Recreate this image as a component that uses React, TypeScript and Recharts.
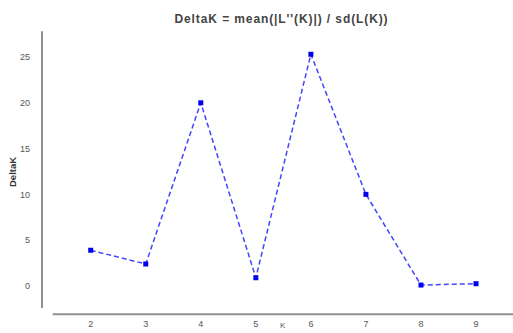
import React from 'react';
import { LineChart, Line, XAxis, YAxis, ReferenceLine } from 'recharts';

const kValues = [2, 3, 4, 5, 6, 7, 8, 9];
const deltaK = [3.9, 2.4, 20.0, 0.9, 25.3, 10.0, 0.1, 0.25];
const yTicks = [0, 5, 10, 15, 20, 25];

const data = kValues.map((k, i) => ({ k, deltaK: deltaK[i] }));

// square marker like the original plot
const SquareDot = (props: any) => {
  const { cx, cy } = props;
  if (cx == null || cy == null) return null;
  return <rect x={cx - 2.5} y={cy - 2.5} width={5} height={5} fill="#0000ee" />;
};

const axisColor = '#8f8f8f';
const tickStyle = { fontSize: 9, fill: '#555', fontFamily: 'Liberation Sans, Arial, sans-serif' };

const App: React.FC = () => {
  return (
    <div style={{ position: 'absolute', left: 0, top: 0, width: 513, height: 333, background: '#fff', overflow: 'hidden', fontFamily: 'Liberation Sans, Arial, sans-serif' }}>
      <div style={{ position: 'absolute', left: 0, width: 513, top: 12, textAlign: 'center', paddingLeft: 50, boxSizing: 'border-box', fontSize: 12, letterSpacing: 0.9, fontWeight: 'bold', color: '#444' }}>
        DeltaK = mean(|L''(K)|) / sd(L(K))
      </div>
      <div style={{ position: 'absolute', left: 7, top: 187, transform: 'rotate(-90deg)', transformOrigin: 'left top', fontSize: 9.5, fontWeight: 'bold', color: '#333', whiteSpace: 'nowrap' }}>
        DeltaK
      </div>
      <div style={{ position: 'absolute', left: 280, top: 321, fontSize: 8, lineHeight: '10px', color: '#555' }}>K</div>
      <LineChart width={513} height={333} data={data} margin={{ top: 30, right: 0, bottom: 0, left: 0 }}>
        <XAxis
          dataKey="k"
          type="number"
          domain={[1.115, 9.672]}
          ticks={kValues}
          allowDataOverflow
          height={18}
          axisLine={false}
          tickLine={false}
          tick={tickStyle}
          tickMargin={0}
        />
        <YAxis
          type="number"
          domain={[-3.17, 27.95]}
          ticks={yTicks}
          allowDataOverflow
          width={42}
          axisLine={false}
          tickLine={false}
          tick={tickStyle}
          tickMargin={6}
        />
        <ReferenceLine
          segment={[{ x: 1.115, y: -2.4 }, { x: 1.115, y: 27.8 }]}
          stroke={axisColor}
          strokeWidth={2}
          ifOverflow="visible"
        />
        <ReferenceLine
          segment={[{ x: 1.31, y: -3.1 }, { x: 9.672, y: -3.1 }]}
          stroke={axisColor}
          strokeWidth={2}
          ifOverflow="visible"
        />
        <Line
          type="linear"
          dataKey="deltaK"
          stroke="#4444ff"
          strokeWidth={1.5}
          strokeDasharray="5 3"
          dot={<SquareDot />}
          activeDot={false}
          isAnimationActive={false}
        />
      </LineChart>
    </div>
  );
};

export default App;
